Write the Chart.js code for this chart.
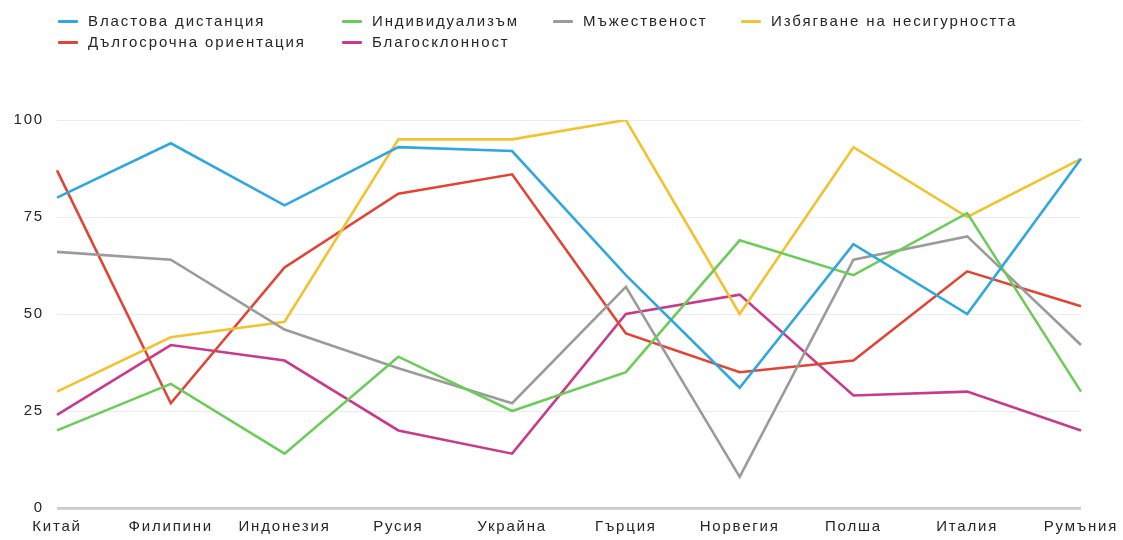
<!DOCTYPE html>
<html>
<head>
<meta charset="utf-8">
<script src="https://cdn.jsdelivr.net/npm/chart.js@4"></script>
<style>
  html, body { margin: 0; padding: 0; background: #fff; }
  #wrap { position: relative; width: 1123px; height: 540px; }
  #c { position: absolute; left: 0; top: 0; }
  .lg { position: absolute; height: 18px; line-height: 18px; font-family: "Liberation Sans", Arial, sans-serif; font-size: 15px; letter-spacing: 1.9px; color: #262626; white-space: nowrap; }
  .lg span.sw { position: absolute; left: 0; top: 8px; width: 20px; height: 3px; border-radius: 1px; }
  .lg span.tx { position: absolute; left: 30px; top: 0; }
</style>
</head>
<body>
<div id="wrap">
  <canvas id="c" width="1123" height="540"></canvas>
</div>
<script>
const categories = ["Китай", "Филипини", "Индонезия", "Русия", "Украйна", "Гърция", "Норвегия", "Полша", "Италия", "Румъния"];
const seriesNames = ["Властова дистанция", "Индивидуализъм", "Мъжественост", "Избягване на несигурността", "Дългосрочна ориентация", "Благосклонност"];
const powerDistance   = [80, 94, 78, 93, 92, 60, 31, 68, 50, 90];
const individualism   = [20, 32, 14, 39, 25, 35, 69, 60, 76, 30];
const masculinity     = [66, 64, 46, 36, 27, 57, 8, 64, 70, 42];
const uncertainty     = [30, 44, 48, 95, 95, 100, 50, 93, 75, 90];
const longTerm        = [87, 27, 62, 81, 86, 45, 35, 38, 61, 52];
const indulgence      = [24, 42, 38, 20, 14, 50, 55, 29, 30, 20];
const yTicks = [0, 25, 50, 75, 100];

const seriesValues = [powerDistance, individualism, masculinity, uncertainty, longTerm, indulgence];
const colors = ["#31A7DC", "#6DCB5C", "#9B9B9B", "#F1C232", "#DE4535", "#C53C8C"];

// HTML legend (4 columns, row-major)
const colLeft = [58, 342, 553, 741];
const rowCenter = [21, 42];
const wrap = document.getElementById('wrap');
seriesNames.forEach((name, i) => {
  const col = i % 4, row = Math.floor(i / 4);
  const d = document.createElement('div');
  d.className = 'lg';
  d.style.left = colLeft[col] + 'px';
  d.style.top = (rowCenter[row] - 9) + 'px';
  d.innerHTML = '<span class="sw" style="background:' + colors[i] + '"></span><span class="tx"></span>';
  d.querySelector('.tx').textContent = name;
  wrap.appendChild(d);
});

const font = { family: '"Liberation Sans", Arial, sans-serif', size: 15 };

const spacingPlugin = {
  id: 'spacing',
  beforeUpdate(chart) { chart.ctx.letterSpacing = '1.8px'; },
  beforeDraw(chart) { chart.ctx.letterSpacing = '1.8px'; }
};

new Chart(document.getElementById('c'), {
  type: 'line',
  plugins: [spacingPlugin],
  data: {
    labels: categories,
    datasets: seriesNames.map((n, i) => ({
      label: n,
      data: seriesValues[i],
      borderColor: colors[i],
      backgroundColor: colors[i],
      borderWidth: 2.6,
      pointRadius: 0,
      tension: 0,
      fill: false
    }))
  },
  options: {
    responsive: false,
    animation: false,
    layout: { padding: { top: 120, right: 42, left: 0, bottom: 0 } },
    plugins: { legend: { display: false }, tooltip: { enabled: false } },
    scales: {
      x: {
        offset: false,
        grid: { display: false, drawTicks: false },
        border: { display: false },
        afterFit: (s) => { s.height = 32; s.paddingLeft = 0; s.paddingRight = 0; },
        ticks: { color: '#262626', font: font, padding: 10, maxRotation: 0, autoSkip: false }
      },
      y: {
        min: 0, max: 100,
        afterBuildTicks: (s) => { s.ticks = yTicks.map(v => ({ value: v })); },
        afterFit: (s) => { s.width = 57; s.paddingTop = 0; s.paddingBottom = 0; },
        grid: {
          drawTicks: false,
          color: (ctx) => ctx.tick && ctx.tick.value === 0 ? '#c9c9c9' : '#ebebeb',
          lineWidth: (ctx) => ctx.tick && ctx.tick.value === 0 ? 2.8 : 1
        },
        border: { display: false },
        ticks: { color: '#262626', font: font, padding: 13 }
      }
    }
  }
});
</script>
</body>
</html>
